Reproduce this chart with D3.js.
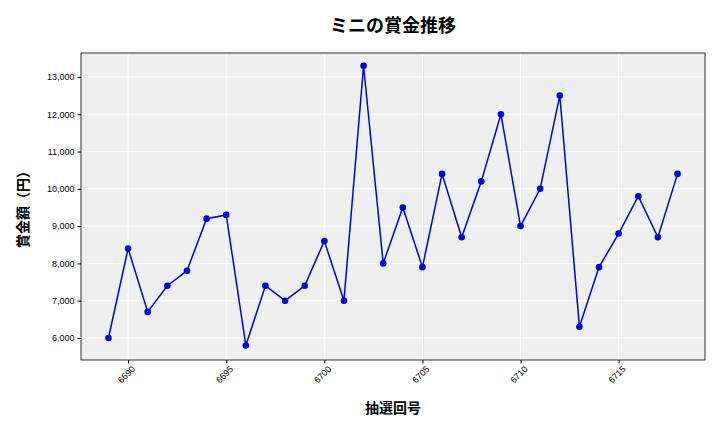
<!DOCTYPE html>
<html><head><meta charset="utf-8">
<script src="https://cdn.jsdelivr.net/npm/d3@7"></script>
<style>body{margin:0;background:#fff;font-family:"Noto Sans CJK JP","DejaVu Sans",sans-serif;}</style>
</head><body><svg id="c" width="720" height="432"></svg>
<script>
const draws = d3.range(6689, 6719);
const prizes = [6000,8400,6700,7400,7800,9200,9300,5800,7400,7000,7400,8600,7000,13300,8000,9500,7900,10400,8700,10200,12000,9000,10000,12500,6300,7900,8800,9800,8700,10400];
const xTicks = [6690,6695,6700,6705,6710,6715];
const yTicks = [6000,7000,8000,9000,10000,11000,12000,13000];
const svg = d3.select("#c");
const L=81,R=705,T=53,B=360;
const x = d3.scaleLinear().domain([6687.6,6719.4]).range([L,R]);
const y = d3.scaleLinear().domain([5410,13641]).range([B,T]);
svg.append("rect").attr("x",L).attr("y",T).attr("width",R-L).attr("height",B-T).attr("fill","#efefef");
svg.selectAll(".gx").data(xTicks).enter().append("line").attr("x1",d=>x(d)).attr("x2",d=>x(d)).attr("y1",T).attr("y2",B).attr("stroke","#fff");
svg.selectAll(".gy").data(yTicks).enter().append("line").attr("y1",d=>y(d)).attr("y2",d=>y(d)).attr("x1",L).attr("x2",R).attr("stroke","#fff");
svg.append("rect").attr("x",L).attr("y",T).attr("width",R-L).attr("height",B-T).attr("fill","none").attr("stroke","#000").attr("stroke-width",0.8);
const xa = svg.append("g").attr("transform",`translate(0,${B})`).call(d3.axisBottom(x).tickValues(xTicks).tickFormat(d3.format("d")).tickSize(3.5));
xa.selectAll("text").attr("transform","rotate(-45)").attr("text-anchor","end").attr("dx","-0.2em").attr("dy","0.6em").style("font-size","9px");
const ya = svg.append("g").attr("transform",`translate(${L},0)`).call(d3.axisLeft(y).tickValues(yTicks).tickFormat(d3.format(",")).tickSize(3.5));
ya.selectAll("text").style("font-size","9px");
svg.selectAll(".domain").remove();
svg.append("path").datum(draws.map((d,i)=>[d,prizes[i]])).attr("fill","none").attr("stroke","#0000e0").attr("stroke-width",1.5)
  .attr("d",d3.line().x(d=>x(d[0])).y(d=>y(d[1])));
svg.selectAll(".pt").data(draws).enter().append("circle").attr("cx",d=>x(d)).attr("cy",(d,i)=>y(prizes[i])).attr("r",3.3).attr("fill","#0000e0");
svg.append("text").attr("x",393).attr("y",32).attr("text-anchor","middle").style("font-size","18px").style("font-weight","bold").text("ミニの賞金推移");
svg.append("text").attr("x",393).attr("y",413).attr("text-anchor","middle").style("font-size","14px").style("font-weight","bold").text("抽選回号");
svg.append("text").attr("transform","translate(28,206) rotate(-90)").attr("text-anchor","middle").style("font-size","14px").style("font-weight","bold").text("賞金額（円）");
</script></body></html>
